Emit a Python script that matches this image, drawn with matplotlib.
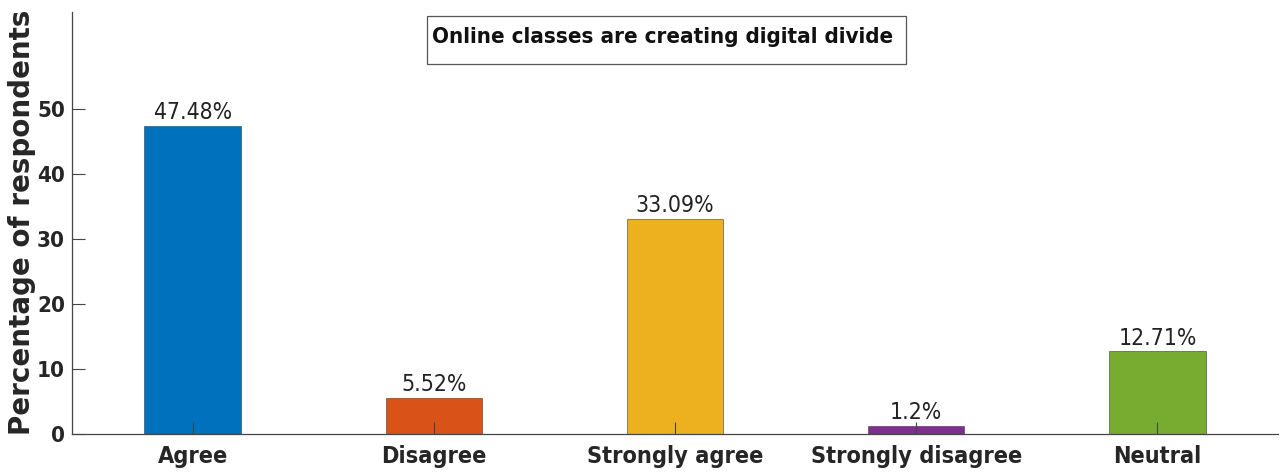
import matplotlib
matplotlib.use("Agg")
import matplotlib.pyplot as plt
from matplotlib import font_manager as fm
from matplotlib.patches import Rectangle

categories = ["Agree", "Disagree", "Strongly agree", "Strongly disagree", "Neutral"]
values = [47.48, 5.52, 33.09, 1.2, 12.71]
value_labels = ["47.48%", "5.52%", "33.09%", "1.2%", "12.71%"]
colors = ["#0072BD", "#D95319", "#EDB120", "#7E2F8E", "#77AC30"]
yticks = [0, 10, 20, 30, 40, 50]

W, H = 1282, 475
cond_b = fm.FontProperties(family="DejaVu Sans", stretch="condensed", weight="bold", size=16.8)
cond_n = fm.FontProperties(family="DejaVu Sans", stretch="condensed", weight="normal", size=16.5)
tick_y = fm.FontProperties(family="DejaVu Sans", stretch="condensed", weight="bold", size=16)
title_fp = fm.FontProperties(family="DejaVu Sans", stretch="condensed", weight="bold", size=16)

fig = plt.figure(figsize=(W/100, H/100), dpi=100)
ax = fig.add_axes([72/W, 41/H, (1278-72)/W, (434-12)/H])

x = list(range(1, len(categories) + 1))
ax.bar(x, values, width=0.4, color=colors, edgecolor=(0.2, 0.2, 0.2, 0.55), linewidth=0.7, zorder=2)
for xi, v, lab in zip(x, values, value_labels):
    ax.text(xi, v + 0.3, lab, ha="center", va="bottom", fontproperties=cond_n, color="#222222")

ax.set_xlim(0.5, 5.5)
ax.set_ylim(0, 65)
ax.set_xticks(x)
ax.set_xticklabels(categories, fontproperties=cond_b, color="#262626")
ax.set_yticks(yticks)
ax.set_yticklabels([str(t) for t in yticks], fontproperties=tick_y, color="#262626")
ax.tick_params(direction="in", length=9, width=0.8, colors="#444444", labelcolor="#262626")
ax.tick_params(axis="x", pad=8)
ax.tick_params(axis="y", pad=5)
for s in ["top", "right"]:
    ax.spines[s].set_visible(False)
for s in ["left", "bottom"]:
    ax.spines[s].set_color("#444444")
    ax.spines[s].set_linewidth(0.9)
ax.set_axisbelow(False)

fig.text(22/W, 1 - 222/H, "Percentage of respondents", rotation=90, ha="center", va="center",
         fontsize=20, fontweight="bold", color="#262626")

fig.patches.append(Rectangle((427/W, 1 - 64/H), (906-427)/W, 48/H, transform=fig.transFigure,
                             facecolor="white", edgecolor="#555555", linewidth=0.9, zorder=5))
fig.text(432/W, 1 - 37/H, "Online classes are creating digital divide",
         ha="left", va="center", fontproperties=title_fp, color="#111111", zorder=6)

fig.savefig("out.png", dpi=100)
